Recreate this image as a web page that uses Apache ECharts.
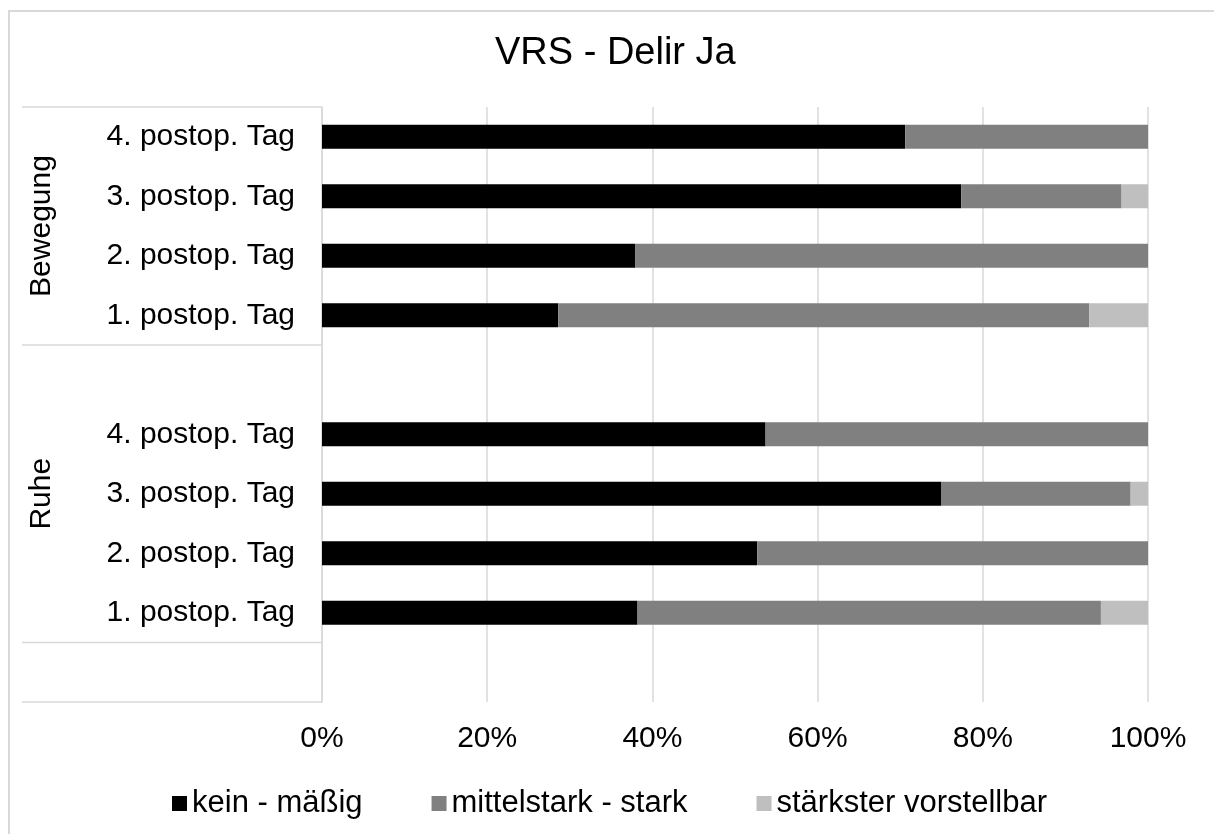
<!DOCTYPE html>
<html>
<head>
<meta charset="utf-8">
<script src="https://cdn.jsdelivr.net/npm/echarts@6/dist/echarts.min.js"></script>
<style>
  html, body { margin: 0; padding: 0; background: #fff; }
  #chart-container { width: 1214px; height: 834px; }
</style>
</head>
<body>
<div id="chart-container"></div>
<script>
// rows from bottom to top, '' = empty spacer row
var categories = ['', '1. postop. Tag', '2. postop. Tag', '3. postop. Tag', '4. postop. Tag',
                  '', '1. postop. Tag', '2. postop. Tag', '3. postop. Tag', '4. postop. Tag'];
// group name, first row index, last row index (spacer row 5 belongs to Ruhe like in Excel)
var groups = [
  { name: 'Ruhe', from: 1, to: 5 },
  { name: 'Bewegung', from: 6, to: 9 }
];
var seriesNames = ['kein - mäßig', 'mittelstark - stark', 'stärkster vorstellbar'];
var keinMaessig = [null, 38.2, 52.7, 75.0, 53.7, null, 28.6, 37.9, 77.4, 70.6];
var mittelStark = [null, 56.1, 47.3, 22.9, 46.3, null, 64.3, 62.1, 19.4, 29.4];
var staerkster  = [null, 5.7, 0, 2.1, 0, null, 7.1, 0, 3.2, 0];
var xTicks = [0, 20, 40, 60, 80, 100];

var dom = document.getElementById('chart-container');
var myChart = echarts.init(dom, null, { renderer: 'canvas' });

var font = 'Arial, "Liberation Sans", sans-serif';
var colors = ['#000000', '#808080', '#bfbfbf'];

function barSeries(name, data) {
  return {
    name: name,
    type: 'bar',
    stack: 'total',
    barWidth: 24,
    data: data
  };
}

var option = {
  animation: false,
  color: colors,
  textStyle: { fontFamily: font },
  title: {
    text: 'VRS - Delir Ja',
    left: 490,
    top: 30,
    padding: 5,
    textStyle: { fontFamily: font, fontSize: 38, fontWeight: 'normal', color: '#000' }
  },
  legend: {
    top: 783,
    left: 167,
    itemWidth: 15,
    itemHeight: 15,
    itemGap: 69,
    icon: 'rect',
    textStyle: { fontFamily: font, fontSize: 31, color: '#000' },
    data: seriesNames
  },
  grid: { left: 322, right: 66, top: 107, bottom: 132 },
  xAxis: {
    type: 'value',
    min: xTicks[0],
    max: xTicks[xTicks.length - 1],
    interval: 20,
    axisLine: { show: false },
    axisTick: { show: false },
    axisLabel: { formatter: '{value}%', fontSize: 30, color: '#000', margin: 22, fontFamily: font },
    splitLine: { lineStyle: { color: '#d9d9d9', width: 1.5 } }
  },
  yAxis: {
    type: 'category',
    data: categories,
    axisLine: { lineStyle: { color: '#d9d9d9', width: 1.5 } },
    axisTick: { show: false },
    axisLabel: { fontSize: 30, color: '#000', margin: 27, fontFamily: font, interval: 0 }
  },
  series: [
    barSeries(seriesNames[0], keinMaessig),
    barSeries(seriesNames[1], mittelStark),
    barSeries(seriesNames[2], staerkster)
  ]
};

myChart.setOption(option);

// group lines and labels of the two-level category axis
function drawGroups() {
  var y0 = myChart.convertToPixel({ yAxisIndex: 0 }, 0);
  var y1 = myChart.convertToPixel({ yAxisIndex: 0 }, 1);
  var h = y0 - y1;
  var axisX = myChart.convertToPixel({ xAxisIndex: 0 }, 0);
  var leftX = 22;
  var bounds = [-0.5, 0.5];
  groups.forEach(function (g) { bounds.push(g.to + 0.5); });
  var elements = [{
    type: 'rect',
    shape: { x: 9, y: 11, width: 1400, height: 1000 },
    style: { fill: 'none', stroke: '#d9d9d9', lineWidth: 2 },
    silent: true
  }];
  bounds.forEach(function (b) {
    var y = y0 - b * h;
    elements.push({
      type: 'line',
      shape: { x1: leftX, y1: y, x2: axisX, y2: y },
      style: { stroke: '#d9d9d9', lineWidth: 1.5 },
      silent: true
    });
  });
  groups.forEach(function (g) {
    var yc = y0 - ((g.from + g.to) / 2) * h;
    elements.push({
      type: 'text',
      x: 42,
      y: yc,
      rotation: Math.PI / 2,
      style: {
        text: g.name,
        fontSize: 30,
        fontFamily: font,
        fill: '#000',
        align: 'center',
        verticalAlign: 'middle'
      },
      silent: true
    });
  });
  myChart.setOption({ graphic: elements });
}
drawGroups();

window.addEventListener('resize', myChart.resize);
</script>
</body>
</html>
